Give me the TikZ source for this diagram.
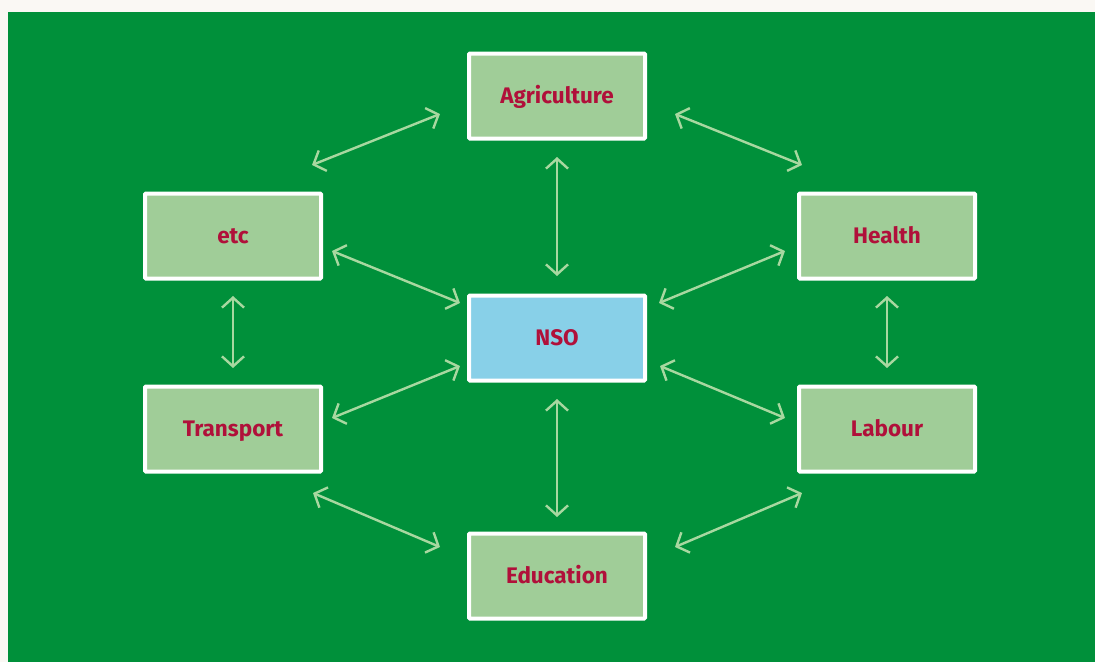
\documentclass[tikz,border=0pt]{standalone}
\usepackage{fontspec}
\setmainfont{Fira Sans}
\usetikzlibrary{arrows.meta}
\definecolor{bggreen}{HTML}{00903A}
\definecolor{boxgreen}{HTML}{A0CD98}
\definecolor{nsoblue}{HTML}{88D0E8}
\definecolor{txtred}{HTML}{B0103A}
\definecolor{arrowgreen}{HTML}{A8D8A0}
\definecolor{paper}{HTML}{FAF8F4}
\tikzset{
  sector/.style={draw=white, line width=4pt, fill=boxgreen, minimum width=176pt, minimum height=85pt,
    inner sep=0pt, rounded corners=1pt, font=\fontsize{22.5}{26}\selectfont\bfseries, text=txtred,
    text height=14pt, text depth=0pt},
  nsobox/.style={sector, fill=nsoblue},
  link/.style={draw=arrowgreen, line width=2.4pt, {Straight Barb[length=10pt,width=22pt,line width=2.4pt]}-{Straight Barb[length=10pt,width=22pt,line width=2.4pt]}}
}
\begin{document}
\begin{tikzpicture}[x=1pt,y=-1pt]
\fill[paper] (0,0) rectangle (1095,662);
\useasboundingbox (0,0) rectangle (1095,662);
\fill[bggreen] (8,12) rectangle (1095,662);
\node[sector] (agri) at (557,96) {Agriculture};
\node[sector] (etc) at (233,236) {etc};
\node[sector] (health) at (887,236) {Health};
\node[nsobox] (nso) at (557,338) {NSO};
\node[sector] (transport) at (233,429) {Transport};
\node[sector] (labour) at (887,429) {Labour};
\node[sector] (edu) at (557,576) {Education};
% arrow end points
\coordinate (ea1) at (312,165); \coordinate (ea2) at (440,114);
\coordinate (ah1) at (675,114); \coordinate (ah2) at (802,165);
\coordinate (an1) at (557,157); \coordinate (an2) at (557,276);
\coordinate (en1) at (332,251); \coordinate (en2) at (460,303);
\coordinate (hn1) at (785,251); \coordinate (hn2) at (659,303);
\coordinate (et1) at (233,296); \coordinate (et2) at (233,368);
\coordinate (hl1) at (887,296); \coordinate (hl2) at (887,368);
\coordinate (tn1) at (332,418); \coordinate (tn2) at (460,366);
\coordinate (ln1) at (785,418); \coordinate (ln2) at (660,366);
\coordinate (ne1) at (557,399); \coordinate (ne2) at (557,517);
\coordinate (te1) at (313,493); \coordinate (te2) at (440,547);
\coordinate (le1) at (802,493); \coordinate (le2) at (675,547);
\draw[link] (ea1) -- (ea2);
\draw[link] (ah1) -- (ah2);
\draw[link] (an1) -- (an2);
\draw[link] (en1) -- (en2);
\draw[link] (hn1) -- (hn2);
\draw[link] (et1) -- (et2);
\draw[link] (hl1) -- (hl2);
\draw[link] (tn1) -- (tn2);
\draw[link] (ln1) -- (ln2);
\draw[link] (ne1) -- (ne2);
\draw[link] (te1) -- (te2);
\draw[link] (le1) -- (le2);
\end{tikzpicture}
\end{document}
